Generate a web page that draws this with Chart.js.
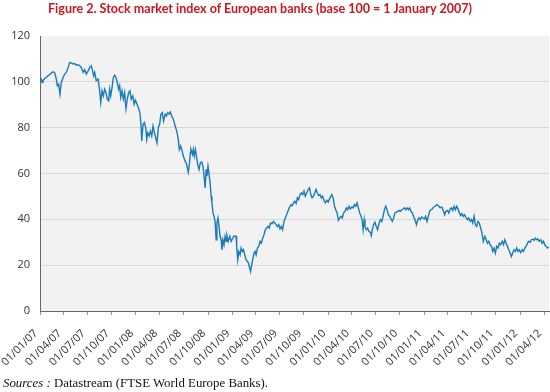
<!DOCTYPE html>
<html>
<head>
<meta charset="utf-8">
<script src="https://cdn.jsdelivr.net/npm/chart.js@4"></script>
<style>
  html, body { margin: 0; padding: 0; background: #ffffff; }
  #wrap { position: relative; width: 550px; height: 392px; overflow: hidden; }
  #chart { position: absolute; left: 0; top: 0; }
  #title { position: absolute; left: 48px; top: 0px; font-family: Lato, "Open Sans", sans-serif; font-weight: bold; font-size: 12px; line-height: 17px; color: #d2141e; white-space: nowrap; }
  #source { position: absolute; left: 3px; top: 377px; font-family: "Liberation Serif", "Times New Roman", serif; font-size: 11px; line-height: 12px; color: #111; white-space: nowrap; }
  #source i { font-style: italic; }
</style>
</head>
<body>
<div id="wrap">
  <canvas id="chart" width="550" height="392"></canvas>
  <div id="title">Figure 2. Stock market index of European banks (base 100 = 1 January 2007)</div>
  <div id="source"><i>Sources :</i> Datastream (FTSE World Europe Banks).</div>
</div>
<script>
// Days elapsed since 1 January 2007 for each observation
const sampleDays = [
  0,5,8,11,18,24,30,37,43,50,56,62,66,71,76,81,88,94,100,107,113,119,126,132,138,145,151,157,164,170,176,183,189,195,199,204,208,214,221,227,231,236,241,246,251,256,261,265,269,274,279,284,289,294,299,303,307,312,317,322,327,332,337,342,347,353,358,
  363,368,374,380,384,387,392,397,402,406,410,415,420,425,430,435,440,445,450,455,460,465,470,476,481,486,491,496,501,507,514,520,526,530,535,539,545,552,558,564,568,572,574,580,583,587,591,595,600,605,610,615,620,624,628,632,635,639,643,647,651,654,658,662,666,670,673,677,681,685,689,692,696,700,704,708,711,716,722,727,732,737,742,
  746,748,752,756,761,765,770,774,779,784,789,793,796,801,805,809,814,818,822,827,832,837,842,847,852,857,862,867,872,877,883,888,893,898,903,908,913,918,923,928,933,938,943,948,954,959,964,969,974,979,984,989,994,999,1004,1009,1014,1020,1025,1030,1035,1040,1045,1050,1055,1060,1065,1070,1075,1080,1085,1091,1096,
  1103,1110,1115,1120,1125,1130,1135,1140,1145,1150,1155,1160,1165,1170,1175,1180,1186,1191,1196,1201,1206,1211,1216,1221,1225,1229,1233,1236,1241,1246,1251,1257,1260,1264,1269,1274,1279,1284,1290,1295,1300,1305,1310,1315,1320,1325,1330,1335,1340,1345,1350,1355,1361,1366,1371,1376,1381,1386,1391,1396,1401,1406,1411,1416,1421,1426,1432,1437,1442,1447,1452,1457,1462,1467,1472,1477,1482,1487,1492,1497,
  1503,1509,1515,1522,1528,1534,1539,1544,1550,1555,1560,1565,1570,1575,1580,1585,1590,1595,1600,1605,1610,1615,1621,1626,1631,1636,1641,1646,1651,1656,1661,1666,1671,1676,1681,1686,1692,1697,1702,1707,1712,1717,1722,1727,1732,1737,1742,1747,1752,1758,1763,1768,1773,1778,1783,1788,1793,1798,1803,1808,1813,1818,1823,1828,1834,1839,1844,1849,1854,1859,1864,1869,1874,1879,1884,1889,1894,1899,1905,1910,1915,1920,1925,1930,1935
];
// Index level (base 100 = 1 January 2007)
const indexValues = [
  100,101,99.7,100.5,101.5,102,102.6,103.2,103.8,104.4,104,101.2,98.3,99,94.6,99.7,101.9,103.4,104.1,106.3,108.5,108.2,107.8,108,107.3,107.5,107,106.3,104.1,105.3,103.4,104.8,106.3,107,105.3,102.6,104.1,100.5,101.2,96.1,91,96.1,93.9,96.8,95.3,92.4,91.7,96.8,93.9,97.5,101.9,102.9,101.9,99.7,96.8,98.3,93.2,96.1,92.4,95.3,88.3,92.4,95.3,96.1,92.4,93.9,90.2,
  92,90.5,88.8,86.6,81.5,74.2,81.5,82.2,80,74.9,77.8,76.4,78.5,76.4,80.7,77.8,75.6,73.4,80,81.5,85.9,86.6,82.9,85.9,85.1,86.6,85.9,86.9,85.1,83.7,80.7,78.5,74.9,70.5,72,70.5,67.6,65.4,63.9,60.6,63.9,69.1,70.5,68.3,70.5,67.6,70.5,67.6,63.9,61.8,64.7,65,63.2,58.8,53.7,61.8,58.8,63.2,59.6,55.9,50.1,47.2,42.8,41.3,39.1,31.1,38.4,40.6,36.9,32.6,31.1,26.7,31.1,28.9,32.6,30.4,32.9,30.4,32.6,30.4,31.4,32.6,32.6,
  32.6,28.2,22.3,26,24.5,27.5,26,26.7,24.5,22.3,21.6,20.9,19.4,17.2,20.1,22.3,25.3,26,24.5,27.5,28.2,30.4,29.6,31.8,33.3,35.5,36.2,36.9,36.2,38.4,38.1,39.1,38.4,37.7,36.9,37.7,35.8,36.9,35.5,39.1,40.6,42,43.5,45,46.4,46,47.2,47.9,46.9,49.4,48.6,50.8,51.5,50.8,52.3,50.1,51.5,53,53.7,50.8,49.4,50.1,51.5,53,51.5,50.4,50.8,49.4,50.1,48.3,47.2,48.3,47.5,
  49.4,50.8,49.4,45.7,44.2,42.8,39.6,40.6,41.3,40.6,42.8,43.5,45,44.2,45.7,44.5,45.4,45,46.4,45.7,47.2,45,42.8,41.3,39.9,35.5,39.9,36.9,35.5,36.2,34.7,34.3,32.9,35.5,37.7,38.7,36.9,35.5,38.4,39.9,39.1,41.3,44.2,45.7,44.2,42,41.3,40.2,39.1,40.6,42.8,43.1,43.5,43.9,43.5,44.2,44.5,45,44.2,45,44.2,45,43.5,42.8,41.3,39.9,37.7,39.9,40.6,39.9,41,40.6,40.2,41.3,39.1,41.3,43.5,44.2,44.5,45.4,
  45.7,46.4,46,45,45.4,43.9,42,43.5,43.9,42.8,44.5,45,43.9,45.7,44.2,45.7,44.5,42.8,41.6,42.5,41.3,42,40.6,39.9,40.6,39.1,39.9,38.4,41.3,37.7,36.9,39.1,38.4,36.2,34,30.4,32.6,31.1,29.6,30.4,28.9,28.2,26,27.5,25.3,28.2,27.5,29.6,28.9,30.4,28.9,31.1,29.6,28.2,26.7,25.3,23.8,25.3,26.7,26,27.5,26,26.7,25.5,26.7,26,27.5,28.2,29.6,30.4,29.9,31.1,31.4,30.8,31.8,31.1,31.4,30.4,31.1,29.6,30.4,28.9,28.2,27.5,27.9
];
// Quarterly tick labels on the date axis
const tickLabels = ['01/01/07','01/04/07','01/07/07','01/10/07','01/01/08','01/04/08','01/07/08','01/10/08','01/01/09','01/04/09','01/07/09','01/10/09','01/01/10','01/04/10','01/07/10','01/10/10','01/01/11','01/04/11','01/07/11','01/10/11','01/01/12','01/04/12'];
const yTicks = [0,20,40,60,80,100,120];
const lastDay = 1936; // about 20 April 2012

const base = Date.UTC(2007,0,1);
function labelToDay(s){
  const p = s.split('/');
  return Math.round((Date.UTC(2000 + +p[2], +p[1]-1, +p[0]) - base) / 86400000);
}
const tickDays = tickLabels.map(labelToDay);

// fit title and source lines to the reference text widths
(function(){
  const t = document.getElementById('title');
  const w = t.getBoundingClientRect().width;
  t.style.fontSize = (12 * 424 / w).toFixed(2) + 'px';
  const s = document.getElementById('source');
  const ws = s.getBoundingClientRect().width;
  s.style.fontSize = (11 * 265 / ws).toFixed(2) + 'px';
})();

const points = sampleDays.map((d,i) => ({x: d, y: indexValues[i]}));

const plotBg = {
  id: 'plotBg',
  beforeDraw(chart){
    const {ctx, chartArea: a} = chart;
    ctx.save();
    ctx.fillStyle = '#f2f2f2';
    ctx.fillRect(a.left, a.top, a.right - a.left, a.bottom - a.top);
    ctx.restore();
  }
};

const tickFont = {family: '"Open Sans", sans-serif', size: 11};

new Chart(document.getElementById('chart'), {
  type: 'line',
  data: {
    datasets: [{
      data: points,
      borderColor: '#1a7bb8',
      borderWidth: 1.4,
      pointRadius: 0,
      tension: 0,
      fill: false
    }]
  },
  options: {
    responsive: false,
    animation: false,
    devicePixelRatio: 1,
    layout: { padding: { top: 36, right: 1, bottom: 0, left: 0 } },
    plugins: { legend: { display: false }, tooltip: { enabled: false }, title: { display: false } },
    scales: {
      x: {
        type: 'linear',
        min: 0,
        max: lastDay,
        afterBuildTicks(scale){ scale.ticks = tickDays.map(v => ({value: v})); },
        afterFit(scale){ scale.height = 81; scale.paddingLeft = 0; scale.paddingRight = 0; },
        ticks: {
          autoSkip: false,
          minRotation: 45,
          maxRotation: 45,
          padding: 12,
          labelOffset: -4,
          color: '#333',
          font: tickFont,
          callback: (v, i) => tickLabels[i]
        },
        grid: { drawOnChartArea: false, drawTicks: true, tickLength: 4, color: '#999' },
        border: { display: true, color: '#666', width: 1 }
      },
      y: {
        min: 0,
        max: 120,
        afterBuildTicks(scale){ scale.ticks = yTicks.map(v => ({value: v})); },
        afterFit(scale){ scale.width = 40; },
        ticks: { padding: 10, color: '#333', font: tickFont },
        grid: {
          drawTicks: false,
          color: (c) => (c.tick && (c.tick.value === 0 || c.tick.value === 120)) ? 'rgba(0,0,0,0)' : '#d9d9d9',
          lineWidth: 1
        },
        border: { display: true, color: '#666', width: 1 }
      }
    }
  },
  plugins: [plotBg]
});
</script>
</body>
</html>
